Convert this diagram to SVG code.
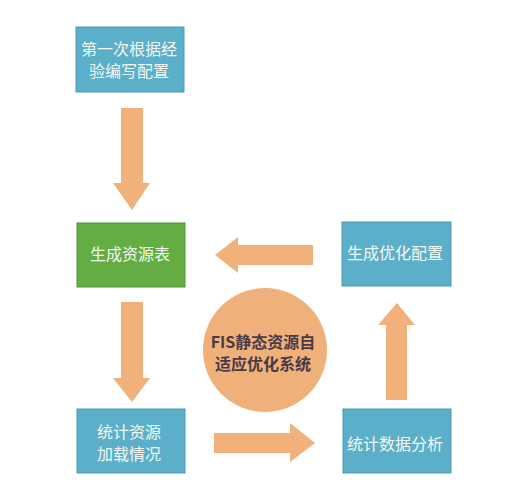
<svg xmlns="http://www.w3.org/2000/svg" width="516" height="500" viewBox="0 0 516 500">
<style>
.blue{fill:#5BAFC9;stroke:#4A9AB3;stroke-width:1}
.green{fill:#63AD43;stroke:#4F9436;stroke-width:1}
.lbl{font-family:"Noto Sans CJK SC","Noto Sans",sans-serif;font-size:16px;fill:#F2F8F4;text-anchor:middle;dominant-baseline:central}
.ctext{font-family:"Noto Sans CJK SC","Noto Sans",sans-serif;font-size:16px;font-weight:bold;fill:#4A3A48;text-anchor:middle;dominant-baseline:central}
.arrow{fill:#F2B07B}
</style>
<rect width="516" height="500" fill="#FFFFFF"/>
<g id="connectors">
<polygon class="arrow" points="121,108 143,108 143,183 150,183 132,210 113,183 121,183"/>
<polygon class="arrow" points="313,245 313,265 238,265 238,273 215,255 238,237 238,245"/>
<polygon class="arrow" points="121,302 143,302 143,378 150,378 132,402 113,378 121,378"/>
<polygon class="arrow" points="214,433 290,433 290,423 315,443 290,462 290,453 214,453"/>
<polygon class="arrow" points="386,400 407,400 407,325 415,325 397,303 378,325 386,325"/>
</g>
<g id="node1">
<rect class="blue" x="76" y="27" width="108" height="65"/>
<text class="lbl" x="129" y="48">第一次根据经</text>
<text class="lbl" x="129" y="70">验编写配置</text>
</g>
<g id="node2">
<rect class="green" x="77" y="223" width="108" height="64"/>
<text class="lbl" x="130" y="253">生成资源表</text>
</g>
<g id="node3">
<rect class="blue" x="77" y="409" width="108" height="64"/>
<text class="lbl" x="129" y="431">统计资源</text>
<text class="lbl" x="129" y="453">加载情况</text>
</g>
<g id="node4">
<rect class="blue" x="342" y="222" width="109" height="64"/>
<text class="lbl" x="395" y="252">生成优化配置</text>
</g>
<g id="node5">
<rect class="blue" x="343" y="409" width="108" height="64"/>
<text class="lbl" x="395" y="443">统计数据分析</text>
</g>
<g id="center">
<circle cx="265" cy="350" r="62" fill="#F0B07A"/>
<text class="ctext" x="263" y="341">FIS静态资源自</text>
<text class="ctext" x="263" y="363">适应优化系统</text>
</g>
</svg>
